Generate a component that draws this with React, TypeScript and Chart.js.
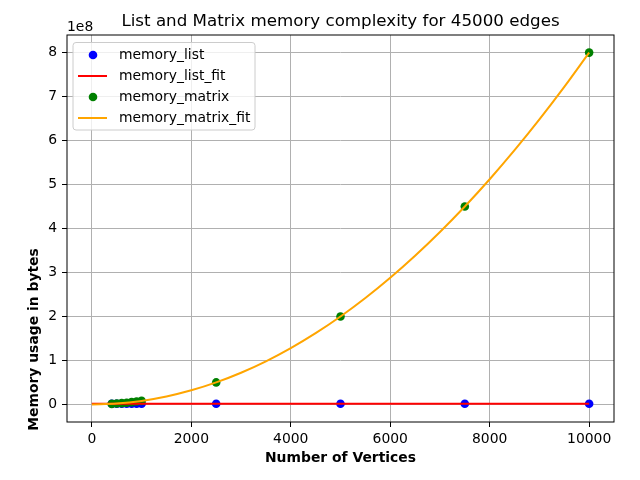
import { useEffect, useRef } from "react";
import { Chart, registerables } from "chart.js";

Chart.register(...registerables);

const titleText = "List and Matrix memory complexity for 45000 edges";
const xAxisTitle = "Number of Vertices";
const yAxisTitle = "Memory usage in bytes";
const offsetLabel = "1e8";

const vertices = [400, 500, 600, 700, 800, 900, 1000, 2500, 5000, 7500, 10000];
const memoryList = [1.45e6, 1.46e6, 1.47e6, 1.48e6, 1.49e6, 1.5e6, 1.51e6, 1.53e6, 1.56e6, 1.6e6, 1.64e6];
const memoryMatrix = [1.28e6, 2.0e6, 2.88e6, 3.92e6, 5.12e6, 6.48e6, 8.0e6, 5.0e7, 2.0e8, 4.5e8, 8.0e8];

const fitVertices = [0, 500, 1000, 1500, 2000, 2500, 3000, 3500, 4000, 4500, 5000, 5500, 6000, 6500, 7000, 7500, 8000, 8500, 9000, 9500, 10000];
const memoryListFit = [1.5e6, 1.5e6, 1.5e6, 1.5e6, 1.5e6, 1.5e6, 1.5e6, 1.5e6, 1.5e6, 1.5e6, 1.5e6, 1.5e6, 1.5e6, 1.5e6, 1.5e6, 1.5e6, 1.5e6, 1.5e6, 1.5e6, 1.5e6, 1.5e6];
const memoryMatrixFit = [0, 2.0e6, 8.0e6, 1.8e7, 3.2e7, 5.0e7, 7.2e7, 9.8e7, 1.28e8, 1.62e8, 2.0e8, 2.42e8, 2.88e8, 3.38e8, 3.92e8, 4.5e8, 5.12e8, 5.78e8, 6.48e8, 7.22e8, 8.0e8];

const xTicks = [0, 2000, 4000, 6000, 8000, 10000];
const yTicks = [0, 1e8, 2e8, 3e8, 4e8, 5e8, 6e8, 7e8, 8e8];

const FONT = "'DejaVu Sans', sans-serif";

const legendItems = [
  { label: "memory_list", kind: "point", color: "#0000ff" },
  { label: "memory_list_fit", kind: "line", color: "#ff0000" },
  { label: "memory_matrix", kind: "point", color: "#008000" },
  { label: "memory_matrix_fit", kind: "line", color: "#ffa500" },
];

const decorPlugin = {
  id: "decor",
  afterDraw(chart: any) {
    const { ctx, chartArea: a } = chart;
    ctx.save();
    // spines
    ctx.strokeStyle = "#000";
    ctx.lineWidth = 1;
    ctx.strokeRect(a.left, a.top, a.right - a.left, a.bottom - a.top);

    // title
    ctx.fillStyle = "#000";
    ctx.font = `16.7px ${FONT}`;
    ctx.textAlign = "center";
    ctx.textBaseline = "middle";
    ctx.fillText(titleText, (a.left + a.right) / 2, 22);

    // offset label
    ctx.font = `13.9px ${FONT}`;
    ctx.textAlign = "left";
    ctx.textBaseline = "alphabetic";
    ctx.fillText(offsetLabel, a.left, 31);

    // y axis title
    ctx.save();
    ctx.translate(34, 339.5);
    ctx.rotate(-Math.PI / 2);
    ctx.font = `bold 13.9px ${FONT}`;
    ctx.textAlign = "center";
    ctx.textBaseline = "middle";
    ctx.fillText(yAxisTitle, 0, 0);
    ctx.restore();

    // legend
    const bx = 73, by = 42.5, bw = 182, bh = 87.5, r = 3;
    ctx.beginPath();
    ctx.moveTo(bx + r, by);
    ctx.lineTo(bx + bw - r, by);
    ctx.quadraticCurveTo(bx + bw, by, bx + bw, by + r);
    ctx.lineTo(bx + bw, by + bh - r);
    ctx.quadraticCurveTo(bx + bw, by + bh, bx + bw - r, by + bh);
    ctx.lineTo(bx + r, by + bh);
    ctx.quadraticCurveTo(bx, by + bh, bx, by + bh - r);
    ctx.lineTo(bx, by + r);
    ctx.quadraticCurveTo(bx, by, bx + r, by);
    ctx.closePath();
    ctx.fillStyle = "rgba(255,255,255,0.8)";
    ctx.fill();
    ctx.strokeStyle = "#cccccc";
    ctx.lineWidth = 1;
    ctx.stroke();

    legendItems.forEach((it, i) => {
      const y = 55 + i * 21;
      if (it.kind === "point") {
        ctx.beginPath();
        ctx.arc(93, y, 4.3, 0, Math.PI * 2);
        ctx.fillStyle = it.color;
        ctx.fill();
      } else {
        ctx.beginPath();
        ctx.moveTo(78, y);
        ctx.lineTo(107, y);
        ctx.strokeStyle = it.color;
        ctx.lineWidth = 2;
        ctx.stroke();
      }
      ctx.fillStyle = "#000";
      ctx.font = `13.9px ${FONT}`;
      ctx.textAlign = "left";
      ctx.textBaseline = "middle";
      ctx.fillText(it.label, 119, y);
    });
    ctx.restore();
  },
};

export default function App() {
  const ref = useRef<HTMLCanvasElement>(null);
  useEffect(() => {
    document.body.style.margin = "0";
    const toPts = (xs: number[], ys: number[]) => xs.map((x, i) => ({ x, y: ys[i] }));
    const chart = new Chart(ref.current!, {
      type: "scatter",
      data: {
        datasets: [
          {
            label: "memory_list",
            data: toPts(vertices, memoryList),
            backgroundColor: "#0000ff",
            borderColor: "#0000ff",
            pointRadius: 4.3,
            borderWidth: 0,
            order: 3,
          },
          {
            label: "memory_list_fit",
            data: toPts(fitVertices, memoryListFit),
            showLine: true,
            borderColor: "#ff0000",
            backgroundColor: "#ff0000",
            borderWidth: 2,
            pointRadius: 0,
            order: 1,
          },
          {
            label: "memory_matrix",
            data: toPts(vertices, memoryMatrix),
            backgroundColor: "#008000",
            borderColor: "#008000",
            pointRadius: 4.3,
            borderWidth: 0,
            order: 2,
          },
          {
            label: "memory_matrix_fit",
            data: toPts(fitVertices, memoryMatrixFit),
            showLine: true,
            borderColor: "#ffa500",
            backgroundColor: "#ffa500",
            borderWidth: 2,
            pointRadius: 0,
            cubicInterpolationMode: "monotone",
            order: 0,
          },
        ] as any,
      },
      options: {
        animation: false,
        responsive: false,
        maintainAspectRatio: false,
        layout: { padding: { top: 35, right: 26, left: 0, bottom: 0 } },
        plugins: {
          legend: { display: false },
          title: { display: false },
          tooltip: { enabled: false },
        },
        scales: {
          x: {
            type: "linear",
            min: -500,
            max: 10500,
            afterBuildTicks: (s: any) => {
              s.ticks = xTicks.map((v) => ({ value: v }));
            },
            afterFit: (s: any) => {
              s.height = 58;
            },
            grid: { color: "#b0b0b0", lineWidth: 1, tickColor: "#000", tickLength: 5, drawTicks: true },
            border: { display: false },
            ticks: {
              color: "#000",
              font: { family: FONT, size: 13.9 },
              padding: 4,
              maxRotation: 0,
              autoSkip: false,
              callback: (v: any) => String(v),
            },
            title: {
              display: true,
              text: xAxisTitle,
              color: "#000",
              font: { family: FONT, size: 13.9, weight: "bold" },
              padding: { top: 0, bottom: 13 },
            },
          },
          y: {
            type: "linear",
            min: -0.4e8,
            max: 8.4e8,
            afterBuildTicks: (s: any) => {
              s.ticks = yTicks.map((v) => ({ value: v }));
            },
            afterFit: (s: any) => {
              s.width = 67;
            },
            grid: { color: "#b0b0b0", lineWidth: 1, tickColor: "#000", tickLength: 5, drawTicks: true },
            border: { display: false },
            ticks: {
              color: "#000",
              font: { family: FONT, size: 13.9 },
              padding: 5,
              autoSkip: false,
              callback: (v: any) => String(Math.round(v / 1e8)),
            },
            title: { display: false },
          },
        },
      } as any,
      plugins: [decorPlugin],
    });
    return () => chart.destroy();
  }, []);
  return (
    <div style={{ position: "absolute", left: 0, top: 0, width: 640, height: 480 }}>
      <canvas ref={ref} width={640} height={480} style={{ width: 640, height: 480 }} />
    </div>
  );
}
